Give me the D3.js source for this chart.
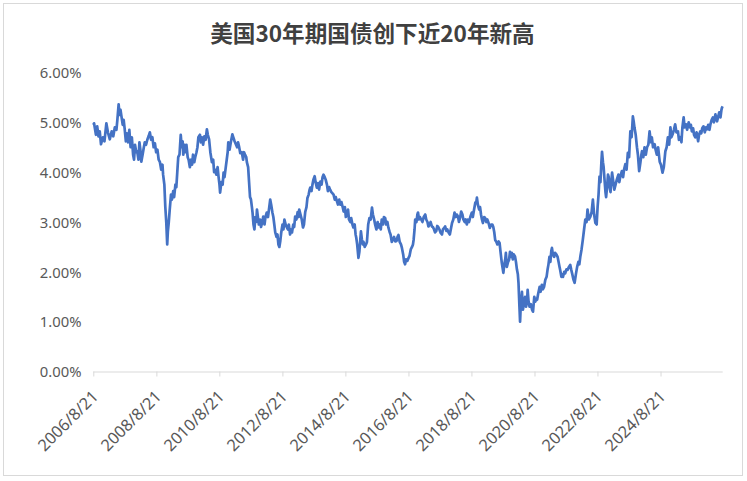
<!DOCTYPE html>
<html><head><meta charset="utf-8">
<script src="https://cdn.jsdelivr.net/npm/d3@7/dist/d3.min.js"></script>
<style>
html,body{margin:0;padding:0;background:#fff;}
svg{display:block;}
</style></head>
<body>
<svg id="chart" width="747" height="481"></svg>
<script>
const title = "美国30年期国债创下近20年新高";
const xTickLabels = ["2006/8/21","2008/8/21","2010/8/21","2012/8/21","2014/8/21","2016/8/21","2018/8/21","2020/8/21","2022/8/21","2024/8/21"];
const yTicks = [0,1,2,3,4,5,6];
// dates as decimal years, yields in %
const dateYears = [
2006.638,2006.66,2006.72,2006.76,2006.80,2006.84,2006.88,2006.94,2006.99,2007.05,2007.10,2007.16,2007.22,2007.27,2007.32,2007.37,2007.40,2007.44,2007.47,2007.50,2007.53,2007.57,2007.60,2007.63,2007.67,2007.70,2007.74,2007.78,2007.82,2007.86,2007.90,2007.93,2007.96,
2008.00,2008.03,2008.07,2008.10,2008.13,2008.16,2008.20,2008.24,2008.27,2008.31,2008.35,2008.39,2008.43,2008.47,2008.51,2008.55,2008.59,2008.63,2008.67,2008.71,2008.75,2008.79,2008.83,2008.85,2008.89,2008.92,2008.95,2008.98,
2009.00,2009.03,2009.06,2009.10,2009.13,2009.17,2009.20,2009.24,2009.27,2009.30,2009.33,2009.37,2009.41,2009.44,2009.47,2009.49,2009.53,2009.56,2009.59,2009.63,2009.66,2009.70,2009.74,2009.77,2009.80,2009.84,2009.87,2009.91,2009.94,2009.97,
2010.02,2010.05,2010.08,2010.12,2010.16,2010.20,2010.24,2010.27,2010.31,2010.35,2010.40,2010.44,2010.47,2010.50,2010.54,2010.58,2010.61,2010.64,2010.66,2010.70,2010.74,2010.77,2010.80,2010.84,2010.87,2010.90,2010.92,2010.96,
2011.00,2011.05,2011.08,2011.12,2011.16,2011.20,2011.23,2011.26,2011.30,2011.35,2011.39,2011.42,2011.45,2011.49,2011.51,2011.55,2011.58,2011.61,2011.64,2011.67,2011.69,2011.72,2011.75,2011.78,2011.81,2011.83,2011.86,2011.89,2011.93,2011.96,
2012.00,2012.03,2012.07,2012.10,2012.14,2012.18,2012.22,2012.25,2012.28,2012.32,2012.35,2012.38,2012.41,2012.45,2012.48,2012.51,2012.54,2012.57,2012.60,2012.64,2012.67,2012.70,2012.74,2012.77,2012.81,2012.84,2012.88,2012.91,2012.94,2012.98,
2013.01,2013.04,2013.08,2013.12,2013.15,2013.17,2013.21,2013.25,2013.29,2013.32,2013.36,2013.40,2013.43,2013.47,2013.50,2013.52,2013.56,2013.59,2013.62,2013.66,2013.69,2013.73,2013.77,2013.80,2013.84,2013.88,2013.91,2013.94,2013.98,
2014.01,2014.05,2014.08,2014.12,2014.15,2014.19,2014.22,2014.26,2014.30,2014.33,2014.37,2014.40,2014.44,2014.47,2014.51,2014.55,2014.58,2014.62,2014.65,2014.68,2014.72,2014.75,2014.79,2014.82,2014.86,2014.89,2014.93,2014.96,2014.98,
2015.01,2015.05,2015.08,2015.11,2015.13,2015.16,2015.19,2015.21,2015.25,2015.29,2015.32,2015.36,2015.40,2015.44,2015.48,2015.51,2015.55,2015.58,2015.62,2015.66,2015.69,2015.72,2015.76,2015.79,2015.83,2015.86,2015.90,2015.93,2015.97,
2016.00,2016.04,2016.07,2016.11,2016.15,2016.18,2016.22,2016.26,2016.29,2016.32,2016.36,2016.40,2016.43,2016.47,2016.50,2016.53,2016.56,2016.60,2016.64,2016.67,2016.71,2016.75,2016.78,2016.80,2016.83,2016.85,2016.89,2016.92,2016.94,2016.97,
2017.00,2017.04,2017.08,2017.12,2017.17,2017.20,2017.24,2017.27,2017.31,2017.34,2017.38,2017.41,2017.45,2017.48,2017.52,2017.55,2017.59,2017.62,2017.66,2017.70,2017.73,2017.77,2017.80,2017.84,2017.87,2017.91,2017.95,2017.98,
2018.02,2018.06,2018.10,2018.14,2018.17,2018.21,2018.24,2018.28,2018.31,2018.35,2018.38,2018.42,2018.45,2018.49,2018.52,2018.56,2018.60,2018.65,2018.68,2018.72,2018.76,2018.79,2018.81,2018.84,2018.88,2018.91,2018.94,2018.97,
2019.00,2019.04,2019.07,2019.11,2019.14,2019.18,2019.22,2019.26,2019.30,2019.33,2019.36,2019.39,2019.43,2019.46,2019.50,2019.53,2019.56,2019.60,2019.62,2019.65,2019.68,2019.71,2019.73,2019.76,2019.80,2019.83,2019.86,2019.89,2019.92,2019.95,2019.98,
2020.02,2020.05,2020.08,2020.11,2020.13,2020.16,2020.18,2020.20,2020.22,2020.24,2020.27,2020.30,2020.34,2020.37,2020.40,2020.42,2020.45,2020.48,2020.52,2020.56,2020.59,2020.63,2020.66,2020.69,2020.72,2020.75,2020.80,2020.83,2020.87,2020.90,2020.94,2020.98,
2021.02,2021.05,2021.08,2021.11,2021.14,2021.17,2021.19,2021.22,2021.26,2021.29,2021.33,2021.37,2021.40,2021.43,2021.45,2021.49,2021.52,2021.54,2021.58,2021.61,2021.65,2021.69,2021.73,2021.77,2021.80,2021.83,2021.87,2021.91,2021.95,2021.99,
2022.03,2022.06,2022.09,2022.13,2022.17,2022.21,2022.25,2022.29,2022.32,2022.36,2022.41,2022.45,2022.49,2022.53,2022.57,2022.61,2022.64,2022.67,2022.70,2022.73,2022.76,2022.78,2022.81,2022.83,2022.86,2022.89,2022.91,2022.94,2022.97,2022.99,
2023.02,2023.05,2023.08,2023.10,2023.13,2023.17,2023.21,2023.25,2023.30,2023.33,2023.36,2023.41,2023.45,2023.48,2023.52,2023.56,2023.60,2023.64,2023.68,2023.72,2023.76,2023.79,2023.81,2023.85,2023.89,2023.92,2023.96,
2024.00,2024.03,2024.05,2024.09,2024.13,2024.17,2024.21,2024.25,2024.29,2024.33,2024.36,2024.40,2024.45,2024.48,2024.52,2024.56,2024.61,2024.65,2024.70,2024.74,2024.79,2024.83,2024.87,2024.91,2024.95,2024.98,
2025.02,2025.06,2025.10,2025.14,2025.19,2025.22,2025.26,2025.30,2025.33,2025.37,2025.40,2025.44,2025.48,2025.53,2025.57,2025.60,2025.63,2025.67,2025.70,2025.74,2025.78,2025.83,2025.86,2025.90,2025.93,2025.96,
2026.00,2026.04,2026.08,2026.11,2026.15,2026.19,2026.22,2026.26,2026.30,2026.33,2026.38,2026.41,2026.43,2026.47,2026.50,2026.54,2026.57,2026.59,2026.61
];
const yields = [
4.95,4.98,4.75,4.92,4.72,4.82,4.56,4.70,4.62,4.98,4.80,4.66,4.82,4.72,4.90,4.85,5.05,5.36,5.15,5.25,5.12,4.95,5.05,4.88,4.62,4.78,4.60,4.85,4.50,4.70,4.35,4.25,4.55,
4.40,4.42,4.25,4.60,4.45,4.21,4.35,4.50,4.60,4.55,4.65,4.72,4.80,4.65,4.70,4.50,4.58,4.40,4.45,4.25,4.20,4.05,4.15,3.95,3.75,3.30,3.00,2.55,
2.80,3.00,3.25,3.55,3.45,3.62,3.50,3.75,3.70,4.00,4.30,4.35,4.75,4.50,4.62,4.35,4.55,4.40,4.55,4.30,4.25,4.10,4.25,4.15,4.35,4.20,4.30,4.40,4.50,4.70,
4.75,4.60,4.70,4.55,4.72,4.65,4.86,4.75,4.66,4.40,4.20,4.25,4.00,4.05,3.95,4.10,3.91,3.75,3.59,3.80,3.75,3.99,3.90,4.10,4.25,4.40,4.60,4.45,
4.60,4.76,4.70,4.62,4.56,4.50,4.60,4.52,4.38,4.40,4.25,4.40,4.35,4.30,4.20,4.10,3.80,3.50,3.45,3.30,3.19,2.95,2.85,3.10,3.00,3.25,3.10,2.95,3.05,2.90,
3.00,3.11,2.95,3.10,3.19,3.10,3.30,3.45,3.35,3.19,3.10,2.95,2.79,2.70,2.75,2.55,2.50,2.62,2.79,2.95,2.85,3.05,2.95,2.90,2.85,2.95,2.75,2.85,2.79,2.95,
2.90,3.11,3.05,3.20,3.10,3.25,3.15,3.05,2.89,2.95,3.20,3.30,3.48,3.55,3.65,3.69,3.62,3.75,3.85,3.92,3.80,3.69,3.78,3.65,3.81,3.75,3.90,3.95,3.90,
3.85,3.75,3.62,3.70,3.65,3.60,3.58,3.55,3.45,3.50,3.41,3.35,3.45,3.35,3.40,3.30,3.21,3.30,3.10,3.15,3.25,3.05,3.00,3.08,2.95,2.89,2.95,2.75,2.69,
2.55,2.28,2.40,2.65,2.81,2.65,2.55,2.60,2.50,2.55,2.60,2.95,3.08,3.05,3.29,3.15,3.05,2.95,2.85,3.00,2.89,2.95,2.85,3.05,2.95,3.10,3.08,2.95,3.00,
2.89,2.80,2.75,2.60,2.65,2.70,2.61,2.62,2.70,2.74,2.60,2.55,2.48,2.35,2.20,2.15,2.25,2.22,2.28,2.32,2.45,2.50,2.55,2.64,2.85,3.05,3.00,3.15,3.19,3.05,
3.10,3.05,3.00,3.10,3.15,3.05,3.00,2.91,2.95,3.00,2.91,2.90,2.85,2.79,2.82,2.92,2.89,2.85,2.78,2.75,2.85,2.88,2.91,2.82,2.85,2.79,2.75,2.85,
2.98,3.05,3.19,3.10,3.15,3.11,3.00,3.10,3.21,3.15,3.05,3.00,3.05,2.95,3.05,3.00,3.10,3.19,3.10,3.25,3.39,3.40,3.49,3.35,3.25,3.30,3.15,3.05,
2.98,3.10,3.08,3.00,3.05,2.98,2.88,2.95,2.95,2.90,2.80,2.64,2.60,2.55,2.61,2.58,2.40,2.18,2.10,1.98,2.15,2.25,2.38,2.10,2.20,2.24,2.40,2.30,2.38,2.25,2.35,
2.31,2.20,2.05,1.95,1.78,1.30,1.00,1.30,1.44,1.60,1.24,1.35,1.50,1.30,1.40,1.64,1.40,1.30,1.35,1.24,1.20,1.50,1.40,1.45,1.44,1.55,1.70,1.60,1.74,1.65,1.70,1.84,
1.90,2.04,2.15,2.30,2.20,2.42,2.48,2.35,2.30,2.38,2.35,2.30,2.20,2.10,2.04,1.90,1.95,1.90,2.00,1.97,2.05,2.04,2.10,2.14,2.05,1.97,1.85,1.78,1.95,2.10,
2.20,2.15,2.30,2.45,2.64,2.85,3.05,3.00,3.25,3.05,3.11,3.20,3.45,3.15,2.98,2.95,3.30,3.55,3.91,3.80,4.20,4.41,4.20,4.11,3.85,3.60,3.50,3.70,3.95,3.91,
3.70,3.60,3.85,3.99,3.85,3.65,3.75,3.85,3.95,3.80,3.91,4.02,3.90,4.05,4.16,4.05,4.39,4.30,4.82,4.70,5.12,5.00,4.90,4.75,4.50,4.35,4.02,
4.20,4.35,4.42,4.30,4.50,4.35,4.50,4.55,4.82,4.60,4.70,4.50,4.56,4.45,4.35,4.50,4.21,4.15,3.99,4.10,4.42,4.50,4.70,4.55,4.90,4.70,
4.76,4.85,4.96,4.80,4.82,4.65,4.70,4.60,4.90,5.10,4.90,4.96,4.85,5.00,4.90,4.95,4.82,4.88,4.75,4.70,4.80,4.62,4.75,4.82,4.78,4.88,
4.92,4.80,4.90,4.86,4.95,4.85,4.96,5.05,5.10,5.00,5.16,5.05,5.02,5.12,5.20,5.10,5.25,5.30,5.32
];

function yearToDate(y){
  const yr = Math.floor(y);
  const s = Date.UTC(yr,0,1), e = Date.UTC(yr+1,0,1);
  return new Date(s + (y-yr)*(e-s));
}
const parseTick = d3.utcParse("%Y/%m/%d");
const data = dateYears.map((d,i)=>({date: yearToDate(d), v: yields[i]}));

const svg = d3.select("#chart");

svg.append("rect").attr("x",3.5).attr("y",3.5).attr("width",739).attr("height",472)
  .attr("fill","#fff").attr("stroke","#d9d9d9").attr("stroke-width",1);

const x = d3.scaleUtc()
  .domain([parseTick(xTickLabels[0]), data[data.length-1].date])
  .range([93.3, 722.7]);
const y = d3.scaleLinear().domain([0,6]).range([371.5, 72.5]);

svg.append("text").attr("x",372.5).attr("y",41.5).attr("text-anchor","middle")
  .attr("font-family","'Noto Sans CJK SC','Noto Sans',sans-serif")
  .attr("font-weight","bold").attr("font-size","22.6px").attr("fill","#404040")
  .text(title);

// y axis labels
const yAxis = d3.axisLeft(y).tickValues(yTicks).tickSize(0).tickPadding(0)
  .tickFormat(d=>d3.format(".2f")(d)+"%");
const gy = svg.append("g").attr("transform","translate(81.5,0)").call(yAxis);
gy.select(".domain").remove();
gy.selectAll("text").attr("font-family","'Noto Sans',sans-serif").attr("font-size","14.8px")
  .attr("fill","#595959").attr("dy","0.35em");

// x axis
const xAxis = d3.axisBottom(x).tickValues(xTickLabels.map(parseTick)).tickSize(5)
  .tickFormat((d,i)=>xTickLabels[i]);
const gx = svg.append("g").attr("transform","translate(0,371.5)").call(xAxis);
gx.select(".domain").attr("stroke","#d9d9d9").attr("d","M93.3,0.5H722.7");
gx.selectAll(".tick line").attr("stroke","#d9d9d9");
gx.selectAll(".tick text").attr("font-family","'Noto Sans',sans-serif").attr("font-size","16.3px")
  .attr("fill","#595959").attr("text-anchor","end")
  .attr("y",0).attr("dy",0)
  .attr("transform","translate(5.5,26) rotate(-45)");

// line
const line = d3.line().x(d=>x(d.date)).y(d=>y(d.v));
svg.append("path").datum(data).attr("fill","none").attr("stroke","#4472C4")
  .attr("stroke-width",2.7).attr("stroke-linejoin","round").attr("d",line);
</script>
</body></html>
